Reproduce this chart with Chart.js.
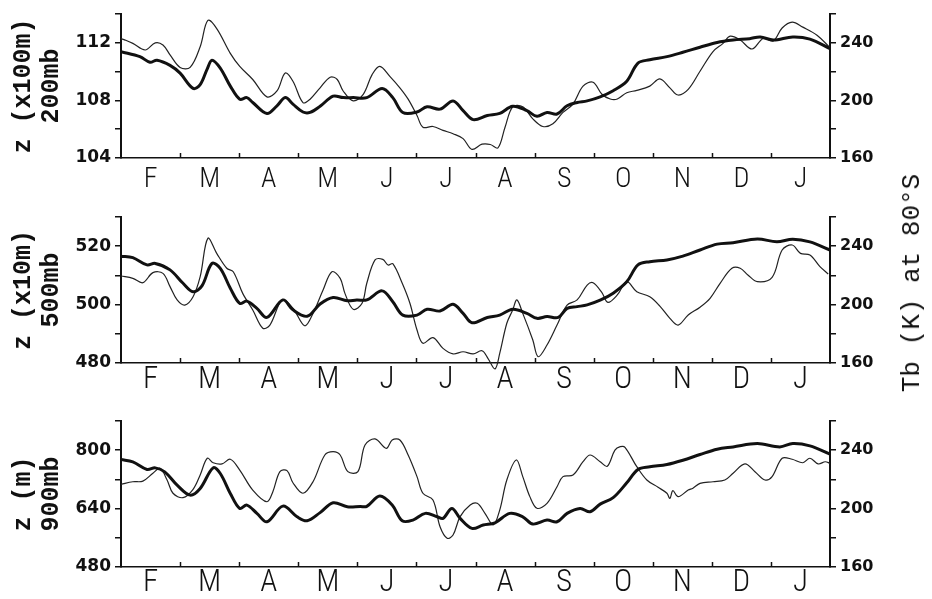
<!DOCTYPE html>
<html>
<head>
<meta charset="utf-8">
<script src="https://cdn.jsdelivr.net/npm/chart.js@4/dist/chart.umd.min.js"></script>
<style>
  html, body { margin: 0; padding: 0; background: #fff; width: 932px; height: 599px; overflow: hidden; }
  .panel { position: absolute; left: 0; width: 932px; }
  #tbTitle {
    position: absolute; left: 912px; top: 283px;
    transform: translate(-50%, -50%) rotate(-90deg);
    font: 26px 'Liberation Mono', 'DejaVu Sans Mono', monospace;
    color: #111; white-space: nowrap;
  }
</style>
</head>
<body>
<div class="panel" style="top:0;height:200px"><canvas id="p200" width="932" height="200"></canvas></div>
<div class="panel" style="top:200px;height:200px"><canvas id="p500" width="932" height="200"></canvas></div>
<div class="panel" style="top:400px;height:199px"><canvas id="p900" width="932" height="199"></canvas></div>
<div id="tbTitle">Tb (K) at 80°S</div>
<script>
// Months from February through January; x is measured in months from 1 Feb.
const MONTHS = ['F', 'M', 'A', 'M', 'J', 'J', 'A', 'S', 'O', 'N', 'D', 'J'];

// Labelled tick values
const TB_TICKS = [160, 200, 240];
const Z200_TICKS = [104, 108, 112];
const Z500_TICKS = [480, 500, 520];
const Z900_TICKS = [480, 640, 800];

// 200 mb geopotential height (x100 m)
const z200 = [[0,111.4],[0.32,111.05],[0.49,110.66],[0.61,110.8],[0.83,110.44],[1.00,109.9],[1.22,108.84],[1.34,109.1],[1.46,110.2],[1.54,110.8],[1.68,110.25],[1.85,109.0],[2.01,108.09],[2.13,108.2],[2.23,107.86],[2.47,107.1],[2.64,107.63],[2.78,108.2],[2.91,107.75],[3.08,107.2],[3.20,107.17],[3.37,107.6],[3.59,108.3],[3.76,108.2],[3.93,108.2],[4.16,108.2],[4.42,108.84],[4.60,108.2],[4.77,107.17],[5.01,107.2],[5.18,107.56],[5.40,107.4],[5.62,107.97],[5.79,107.29],[5.96,106.67],[6.20,106.95],[6.41,107.1],[6.63,107.6],[6.87,107.29],[7.04,106.9],[7.21,107.17],[7.38,107.06],[7.55,107.63],[7.72,107.86],[7.89,107.97],[8.11,108.25],[8.33,108.68],[8.56,109.34],[8.75,110.6],[8.95,110.83],[9.24,111.05],[9.51,111.35],[9.80,111.7],[10.09,112.03],[10.36,112.2],[10.64,112.3],[10.82,112.42],[11.04,112.2],[11.37,112.42],[11.66,112.27],[12.00,111.6]];

// Brightness temperature, 200 mb channel (K)
const tb200 = [[0,243],[0.07,242],[0.20,239.7],[0.41,235.1],[0.58,240.1],[0.71,238.6],[0.83,231.7],[1.00,223],[1.17,223],[1.34,237.4],[1.47,255.7],[1.62,250],[1.85,232.8],[2.01,223.7],[2.23,214.6],[2.47,202.5],[2.64,206.6],[2.78,219.1],[2.91,213.4],[3.08,198.5],[3.20,200.9],[3.37,208.8],[3.54,216.2],[3.66,214.6],[3.76,206.6],[3.93,199.7],[4.10,204.3],[4.25,218],[4.38,223.7],[4.55,216.8],[4.72,208.8],[4.86,200.9],[5.01,189.5],[5.11,181.4],[5.28,181.9],[5.45,179.2],[5.62,176.9],[5.79,173.5],[5.94,166],[6.11,169.6],[6.25,169.4],[6.38,167],[6.50,181.4],[6.63,195.6],[6.80,195.6],[6.97,187.2],[7.14,181.9],[7.31,183.8],[7.48,191.7],[7.65,197.5],[7.82,210],[7.99,212.7],[8.14,204.3],[8.28,201],[8.40,201],[8.56,205.4],[8.73,207],[8.95,210],[9.12,215],[9.29,208.8],[9.43,203.8],[9.60,207.7],[9.80,220.3],[10.02,234],[10.19,239.7],[10.31,244.7],[10.48,242],[10.68,235.8],[10.87,243.1],[11.04,241.4],[11.19,250.4],[11.36,254.5],[11.54,251],[11.78,245.4],[12.00,236.7]];

// 500 mb geopotential height (x10 m)
const z500 = [[0,516.6],[0.20,516.1],[0.44,513.6],[0.58,514.1],[0.83,511.9],[1.05,507.3],[1.22,504.4],[1.37,506.4],[1.54,514.1],[1.68,512.4],[1.85,505.6],[2.01,500.4],[2.13,501.2],[2.30,498.7],[2.47,495.6],[2.74,501.6],[2.91,498.2],[3.15,496],[3.37,500.2],[3.59,502.4],[3.83,501.3],[3.99,501.6],[4.16,501.6],[4.42,504.7],[4.60,501],[4.77,496.4],[5.01,496.4],[5.18,498.4],[5.40,497.8],[5.62,500.1],[5.79,497],[5.94,493.8],[6.20,495.6],[6.41,496.4],[6.63,498.4],[6.87,497],[7.04,495.3],[7.21,495.9],[7.40,495.6],[7.55,498.7],[7.72,499.3],[7.89,499.9],[8.11,501.5],[8.33,503.9],[8.56,507.8],[8.75,513.6],[8.95,514.7],[9.24,515.3],[9.51,516.6],[9.80,518.7],[10.09,520.7],[10.36,521.2],[10.77,522.5],[11.10,521.5],[11.37,522.4],[11.66,521.5],[12.00,518.7]];

// Brightness temperature, 500 mb channel (K)
const tb500 = [[0,219.6],[0.20,218],[0.37,215],[0.54,221.9],[0.71,221.4],[0.83,212.3],[0.95,203.2],[1.08,199.7],[1.22,205.4],[1.34,219.1],[1.47,245.4],[1.62,235.1],[1.79,224.9],[1.90,222.5],[2.06,207.7],[2.23,196.3],[2.40,183.8],[2.52,186],[2.73,203.2],[2.91,197.5],[3.11,185.5],[3.25,194],[3.42,210],[3.57,222.5],[3.71,218],[3.79,207.7],[3.93,196.8],[4.08,200.9],[4.16,214.6],[4.30,230.6],[4.43,231],[4.52,227.1],[4.60,228],[4.76,214.6],[4.89,200.9],[5.01,182.6],[5.11,173.5],[5.28,177.4],[5.45,170],[5.62,166.2],[5.79,167.7],[5.96,166.2],[6.11,168.4],[6.21,163.2],[6.33,156],[6.41,166.6],[6.53,187.2],[6.63,196.3],[6.70,203.2],[6.80,194],[6.97,175.8],[7.06,164.3],[7.21,172.3],[7.38,186],[7.55,199.7],[7.72,203.2],[7.89,213.4],[7.99,215],[8.14,208.2],[8.24,201.5],[8.40,206.6],[8.56,215.7],[8.73,208.8],[8.95,205.4],[9.12,199],[9.29,190.6],[9.43,186],[9.60,192.9],[9.80,198.2],[9.97,204.3],[10.14,214.6],[10.34,224.9],[10.48,224.9],[10.61,220.3],[10.77,215.7],[11.02,218.7],[11.19,237.4],[11.36,240.8],[11.50,235.1],[11.66,234],[11.83,226],[11.97,221]];

// 900 mb geopotential height (m)
const z900 = [[0,774.5],[0.20,768],[0.44,747.2],[0.58,751.6],[0.74,740.7],[0.95,704.3],[1.17,676.9],[1.34,695.2],[1.56,751.6],[1.68,736.2],[1.85,681.6],[2.01,640.5],[2.13,649.6],[2.30,626.9],[2.47,603.9],[2.74,646.8],[2.98,617.6],[3.15,606.6],[3.37,629],[3.59,655.9],[3.83,645],[4.05,645.9],[4.16,645.9],[4.38,674.2],[4.59,649.6],[4.76,606.6],[4.94,608.5],[5.15,626.9],[5.35,617.6],[5.45,613.1],[5.60,640.5],[5.74,613.1],[5.94,585.8],[6.13,594.9],[6.33,601.2],[6.58,626.9],[6.80,617.6],[6.97,597.6],[7.21,608.5],[7.38,603.9],[7.55,626.9],[7.77,640.5],[7.94,631.2],[8.11,652.3],[8.33,670],[8.56,710.6],[8.75,747.2],[8.95,754.4],[9.24,760.9],[9.51,772.6],[9.80,788.2],[10.09,802.7],[10.36,809],[10.77,818.3],[11.15,809],[11.37,818.3],[11.66,811.8],[12.00,789]];

// Brightness temperature, 900 mb channel (K)
const tb900 = [[0,216.6],[0.20,218.4],[0.37,218.8],[0.54,224.2],[0.66,227.6],[0.78,219.6],[0.88,210.5],[1.05,207.5],[1.22,213.2],[1.34,223],[1.46,234.5],[1.56,231.4],[1.71,230.6],[1.85,233.8],[2.01,226.4],[2.23,212.7],[2.47,204.7],[2.57,211.6],[2.69,225.3],[2.81,226],[2.91,217.7],[3.08,210.5],[3.25,218.4],[3.45,236.7],[3.59,239],[3.71,236.7],[3.84,225.3],[4.01,225.3],[4.13,243.6],[4.30,247.7],[4.49,241.3],[4.59,247],[4.72,247],[4.86,236.7],[5.01,221.9],[5.11,210.5],[5.28,205.9],[5.40,187.6],[5.52,179.7],[5.62,181.9],[5.74,194.5],[5.91,202.5],[6.03,203.6],[6.16,196.8],[6.30,188.8],[6.41,199],[6.53,219.6],[6.69,233.3],[6.80,221.9],[6.92,208.2],[7.04,200.2],[7.21,203.6],[7.38,215],[7.48,221.9],[7.65,223],[7.82,232.1],[7.94,236.7],[8.11,232.1],[8.23,229],[8.36,240.1],[8.45,242.4],[8.53,242],[8.73,228.7],[8.90,219.6],[9.09,214.6],[9.24,210.5],[9.29,207],[9.34,212.3],[9.43,208.2],[9.60,212.7],[9.68,214],[9.80,217.3],[10.02,218.4],[10.22,219.6],[10.36,224.2],[10.56,230.6],[10.73,225.3],[10.90,219.6],[11.02,221.9],[11.19,234.5],[11.36,233.8],[11.54,231.4],[11.66,234.5],[11.80,230.6],[11.92,232.1],[12.00,231]];

const INK = '#111';
const toPoints = arr => arr.map(([x, y]) => ({ x, y }));

// Short month-boundary marks pointing up into the plot from the time axis
const monthMarks = {
  id: 'monthMarks',
  afterDatasetsDraw(chart) {
    const xs = chart.scales.x, ctx = chart.ctx, b = chart.chartArea.bottom;
    ctx.save();
    ctx.strokeStyle = INK;
    ctx.lineWidth = 1.5;
    for (let m = 1; m < 12; m++) {
      const px = Math.round(xs.getPixelForValue(m)) + 0.5;
      ctx.beginPath();
      ctx.moveTo(px, b);
      ctx.lineTo(px, b - 5);
      ctx.stroke();
    }
    ctx.restore();
  }
};

function valueAxis(position, min, max, step, labelled, width, title) {
  const axis = {
    type: 'linear', position, min, max,
    ticks: {
      stepSize: step, autoSkip: false, color: INK, padding: 4,
      font: { family: "'DejaVu Sans', sans-serif", size: position === 'left' ? 17 : 16, weight: 'bold' },
      callback: v => labelled.includes(v) ? String(v) : ''
    },
    grid: { drawOnChartArea: false, drawTicks: true, tickLength: 6, color: INK, lineWidth: 1.5 },
    border: { display: true, color: INK, width: 2 },
    afterFit(scale) { scale.width = width; }
  };
  if (title) {
    axis.title = {
      display: true, text: title, color: INK, padding: { top: 10, bottom: 0 },
      font: { family: "'Liberation Mono', 'DejaVu Sans Mono', monospace", size: 25, weight: 'bold', lineHeight: 1.1 }
    };
  }
  return axis;
}

function makePanel(id, topPad, axisHeight, monthSize, monthPad, zData, tbData, zMin, zMax, zStep, zTicks, title, clipThin) {
  new Chart(document.getElementById(id), {
    type: 'line',
    data: {
      datasets: [
        { data: toPoints(zData), yAxisID: 'yz', borderColor: INK, borderWidth: 3, pointRadius: 0, tension: 0.35, fill: false },
        { data: toPoints(tbData), yAxisID: 'ytb', borderColor: '#222', borderWidth: 1.2, pointRadius: 0, tension: 0.35, fill: false, clip: clipThin }
      ]
    },
    options: {
      responsive: false, animation: false, events: [],
      layout: { padding: { top: topPad, left: 0, right: 0, bottom: 0 } },
      plugins: { legend: { display: false }, tooltip: { enabled: false } },
      scales: {
        x: {
          type: 'linear', min: 0, max: 12,
          ticks: {
            stepSize: 0.5, autoSkip: false, maxRotation: 0, padding: monthPad, color: INK,
            font: { family: "'Roboto Condensed', 'Liberation Sans Narrow', 'DejaVu Sans Condensed', sans-serif", size: monthSize, weight: '300' },
            callback: v => Math.abs((v % 1) - 0.5) < 1e-6 ? MONTHS[Math.floor(v)] : ''
          },
          grid: { display: false, drawTicks: false },
          border: { display: true, color: INK, width: 1.5 },
          afterFit(scale) { scale.height = axisHeight; }
        },
        yz: valueAxis('left', zMin, zMax, zStep, zTicks, 121, title),
        ytb: valueAxis('right', 160, 260, 20, TB_TICKS, 102, null)
      }
    },
    plugins: [monthMarks]
  });
}

makePanel('p200', 12, 42, 28, 5, z200, tb200, 104, 114, 2, Z200_TICKS, ['z (x100m)', '200mb'], undefined);
makePanel('p500', 17, 37, 31, -1, z500, tb500, 480, 530, 10, Z500_TICKS, ['z (x10m)', '500mb'], false);
makePanel('p900', 21, 32, 31, -2, z900, tb900, 480, 880, 80, Z900_TICKS, ['z (m)', '900mb'], undefined);
</script>
</body>
</html>
